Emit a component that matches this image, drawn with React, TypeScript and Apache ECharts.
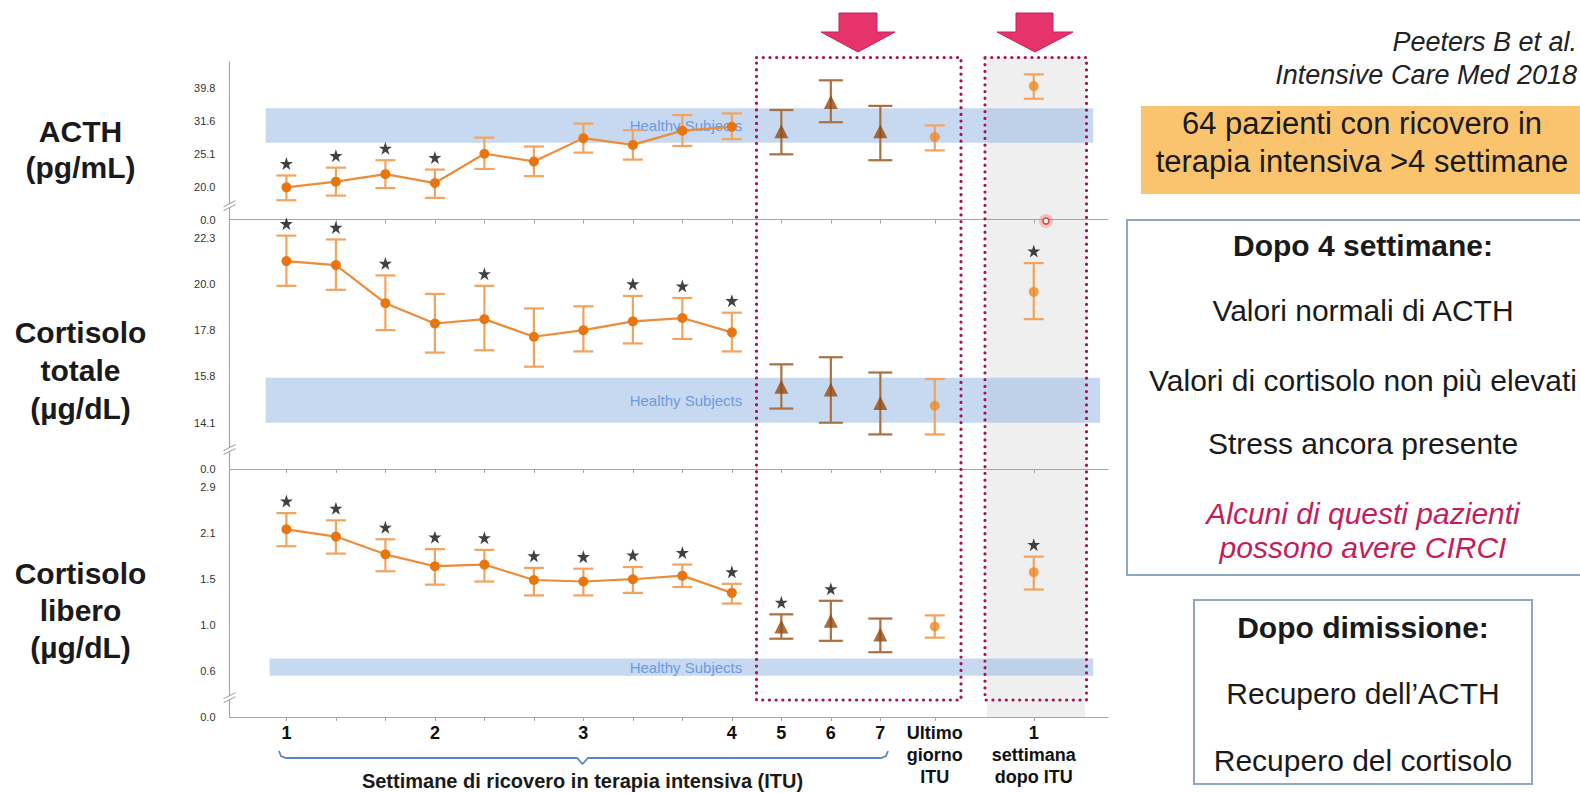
import React, { useEffect, useRef } from "react";
import * as echarts from "echarts";

// ---------------- data ----------------
// position of each sampling point along the time axis (one unit = one sampling step)
const SLOT_X = [0, 1, 2, 3, 4, 5, 6, 7, 8, 9, 10, 11, 12, 13.1, 15.1];
const PHASE = ["icu", "icu", "icu", "icu", "icu", "icu", "icu", "icu", "icu", "icu", "late", "late", "late", "last", "post"];
const X_LABELS = ["1", "2", "3", "4", "5", "6", "7", "Ultimo\ngiorno\nITU", "1\nsettimana\ndopo ITU"];
const X_LABEL_SLOTS = [0, 3, 6, 9, 10, 11, 12, 13.1, 15.1];

const ACTH_TICKS = [20.0, 25.1, 31.6, 39.8];
const ACTH_MEAN = [19.9, 20.7, 21.8, 20.5, 25.1, 23.8, 28.0, 26.7, 29.5, 30.3, 29.4, 36.1, 29.4, 28.2, 40.3];
const ACTH_LO = [18.2, 18.8, 19.8, 18.5, 22.6, 21.5, 25.3, 24.1, 26.5, 27.8, 25.0, 31.3, 24.0, 25.7, 36.9];
const ACTH_HI = [21.6, 22.8, 24.0, 22.5, 28.1, 26.4, 31.0, 29.6, 32.9, 33.3, 34.1, 42.0, 35.1, 30.6, 43.8];
const ACTH_SIG = [1, 1, 1, 1, 0, 0, 0, 0, 0, 0, 0, 0, 0, 0, 0];
const ACTH_HEALTHY = [27.1, 34.5];

const TOT_TICKS = [14.1, 15.8, 17.8, 20.0, 22.3];
const TOT_MEAN = [21.1, 20.9, 19.05, 18.1, 18.3, 17.5, 17.8, 18.2, 18.35, 17.7, 15.4, 15.3, 14.8, 14.7, 19.6];
const TOT_LO = [19.9, 19.7, 17.8, 16.8, 16.9, 16.2, 16.85, 17.2, 17.4, 16.85, 14.6, 14.1, 13.7, 13.7, 18.3];
const TOT_HI = [22.4, 22.2, 20.4, 19.5, 19.9, 18.8, 18.9, 19.4, 19.3, 18.6, 16.3, 16.6, 15.96, 15.7, 21.0];
const TOT_SIG = [1, 1, 1, 0, 1, 0, 0, 1, 1, 1, 0, 0, 0, 0, 1];
const TOT_HEALTHY = [14.1, 15.75];

const FREE_TICKS = [0.6, 1.0, 1.5, 2.1, 2.9];
const FREE_MEAN = [2.16, 2.05, 1.8, 1.65, 1.67, 1.49, 1.47, 1.5, 1.54, 1.33, 0.985, 1.04, 0.9, 0.985, 1.58];
const FREE_LO = [1.91, 1.81, 1.59, 1.43, 1.47, 1.3, 1.3, 1.33, 1.4, 1.21, 0.86, 0.84, 0.74, 0.87, 1.37];
const FREE_HI = [2.42, 2.3, 2.01, 1.87, 1.86, 1.63, 1.62, 1.64, 1.67, 1.44, 1.1, 1.24, 1.06, 1.09, 1.77];
const FREE_SIG = [1, 1, 1, 1, 1, 1, 1, 1, 1, 1, 1, 1, 0, 0, 1];
const FREE_HEALTHY = [0.57, 0.69];

// ---------------- layout ----------------
const GRID_LEFT = 229.5;
const GRID_RIGHT_EDGE = 1108;
const X_MIN = -1.15;
const X_MAX = 16.6;
const PANEL_GEOM = [
  { top: 62, bottom: 219.5, max: 4.79 },
  { top: 219.5, bottom: 469, max: 5.39 },
  { top: 469, bottom: 717, max: 5.4 },
];
const BAND_X = [
  [-0.42, 16.3],
  [-0.42, 16.44],
  [-0.34, 16.3],
];
const HEALTHY_LABEL_END = 9.25;
const FONT = "Liberation Sans, Arial, Helvetica, sans-serif";
const STAR = "path://M12,0 L14.9,8.6 L24,8.6 L16.6,14 L19.4,22.8 L12,17.4 L4.6,22.8 L7.4,14 L0,8.6 L9.1,8.6 Z";

// value -> axis position (ticks sit at 1..n, log interpolation between them; 0 = axis break)
function toPos(v: number, ticks: number[]): number {
  const L = Math.log(v);
  const LT = ticks.map((t) => Math.log(t));
  const n = LT.length;
  let i = 0;
  while (i < n - 2 && L > LT[i + 1]) i++;
  return 1 + i + (L - LT[i]) / (LT[i + 1] - LT[i]);
}

const PANELS = [
  { ticks: ACTH_TICKS, mean: ACTH_MEAN, lo: ACTH_LO, hi: ACTH_HI, sig: ACTH_SIG, healthy: ACTH_HEALTHY },
  { ticks: TOT_TICKS, mean: TOT_MEAN, lo: TOT_LO, hi: TOT_HI, sig: TOT_SIG, healthy: TOT_HEALTHY },
  { ticks: FREE_TICKS, mean: FREE_MEAN, lo: FREE_LO, hi: FREE_HI, sig: FREE_SIG, healthy: FREE_HEALTHY },
];

function errRender(params: any, api: any) {
  const x = api.value(0);
  const lo = api.coord([x, api.value(1)]);
  const hi = api.coord([x, api.value(2)]);
  const late = api.value(3) === 1;
  const half = late ? 12 : 10;
  const style = { stroke: late ? "#A8713F" : "#F2A35C", lineWidth: 2.2, fill: "none" };
  return {
    type: "group",
    children: [
      { type: "line", shape: { x1: lo[0], y1: lo[1], x2: hi[0], y2: hi[1] }, style },
      { type: "line", shape: { x1: hi[0] - half, y1: hi[1], x2: hi[0] + half, y2: hi[1] }, style },
      { type: "line", shape: { x1: lo[0] - half, y1: lo[1], x2: lo[0] + half, y2: lo[1] }, style },
    ],
  };
}

function buildOption() {
  const grid: any[] = [];
  const xAxis: any[] = [];
  const yAxis: any[] = [];
  const series: any[] = [];
  const idx = SLOT_X.map((_, k) => k);

  PANELS.forEach((p, i) => {
    const g = PANEL_GEOM[i];
    const pos = (v: number) => toPos(v, p.ticks);
    grid.push({ left: GRID_LEFT, width: GRID_RIGHT_EDGE - GRID_LEFT, top: g.top, height: g.bottom - g.top });
    xAxis.push({
      type: "value",
      gridIndex: i,
      min: X_MIN,
      max: X_MAX,
      splitLine: { show: false },
      axisLine: { show: true, onZero: false, lineStyle: { color: "#A6A6A6", width: 1.2 } },
      axisTick: { show: true, customValues: SLOT_X, length: 4, lineStyle: { color: "#A6A6A6" } },
      axisLabel:
        i === 2
          ? {
              show: true,
              customValues: X_LABEL_SLOTS,
              formatter: (v: number) => {
                const k = X_LABEL_SLOTS.findIndex((s) => Math.abs(s - v) < 1e-6);
                return k >= 0 ? X_LABELS[k] : "";
              },
              fontFamily: FONT,
              fontSize: 18,
              fontWeight: "bold",
              color: "#111",
              lineHeight: 22,
              margin: 5,
            }
          : { show: false },
    });
    const yVals = [0, ...p.ticks.map((_, k) => k + 1)];
    yAxis.push({
      type: "value",
      gridIndex: i,
      min: 0,
      max: g.max,
      splitLine: { show: false },
      axisLine: { show: true, onZero: false, lineStyle: { color: "#A6A6A6", width: 1.2 } },
      axisTick: { show: false },
      axisLabel: {
        customValues: yVals,
        formatter: (v: number) => (v < 0.5 ? "0.0" : p.ticks[Math.round(v) - 1].toFixed(1)),
        fontFamily: FONT,
        fontSize: 11,
        color: "#333",
        margin: 14,
      },
    });

    // error bars
    series.push({
      type: "custom",
      xAxisIndex: i,
      yAxisIndex: i,
      z: 3,
      silent: true,
      renderItem: errRender,
      encode: { x: 0, y: [1, 2] },
      data: idx.map((k) => [SLOT_X[k], pos(p.lo[k]), pos(p.hi[k]), PHASE[k] === "late" ? 1 : 0]),
    });
    // ICU weeks 1-4 line
    series.push({
      type: "line",
      xAxisIndex: i,
      yAxisIndex: i,
      z: 4,
      silent: true,
      symbol: "circle",
      symbolSize: 10,
      showAllSymbol: true,
      itemStyle: { color: "#E8750E" },
      lineStyle: { color: "#EC8B38", width: 2.2 },
      data: idx.filter((k) => PHASE[k] === "icu").map((k) => [SLOT_X[k], pos(p.mean[k])]),
      markArea: {
        silent: true,
        itemStyle: { color: "rgba(141,180,227,0.5)" },
        label: { show: false },
        data: [
          [
            { xAxis: BAND_X[i][0], yAxis: pos(p.healthy[0]) },
            { xAxis: BAND_X[i][1], yAxis: pos(p.healthy[1]) },
          ],
          [
            {
              xAxis: BAND_X[i][0],
              yAxis: pos(p.healthy[0]),
              itemStyle: { color: "rgba(0,0,0,0)" },
              label: {
                show: true,
                position: "insideRight",
                formatter: "Healthy Subjects",
                color: "#6E9AE0",
                fontSize: 15,
                fontFamily: FONT,
                distance: 2,
              },
            },
            { xAxis: HEALTHY_LABEL_END, yAxis: pos(p.healthy[1]) },
          ],
        ],
      },
    });
    // weeks 5-7 (triangles)
    series.push({
      type: "scatter",
      xAxisIndex: i,
      yAxisIndex: i,
      z: 4,
      silent: true,
      symbol: "triangle",
      symbolSize: 14,
      itemStyle: { color: "#954A0E" },
      data: idx.filter((k) => PHASE[k] === "late").map((k) => [SLOT_X[k], pos(p.mean[k])]),
    });
    // last ICU day and week after ITU
    series.push({
      type: "scatter",
      xAxisIndex: i,
      yAxisIndex: i,
      z: 4,
      silent: true,
      symbol: "circle",
      symbolSize: 10,
      itemStyle: { color: "#EE8A2C" },
      data: idx.filter((k) => PHASE[k] === "last" || PHASE[k] === "post").map((k) => [SLOT_X[k], pos(p.mean[k])]),
    });
    // significance stars
    series.push({
      type: "scatter",
      xAxisIndex: i,
      yAxisIndex: i,
      z: 5,
      silent: true,
      symbol: STAR,
      symbolSize: 13,
      symbolOffset: [0, -12],
      itemStyle: { color: "#111" },
      data: idx.filter((k) => p.sig[k] === 1).map((k) => [SLOT_X[k], pos(p.hi[k])]),
    });
  });

  const T = (text: string, x: number, y: number, extra: any = {}) => ({
    type: "text",
    x,
    y,
    z: 20,
    style: {
      text,
      fill: "#1a1a1a",
      fontFamily: FONT,
      fontSize: 30,
      align: "center",
      verticalAlign: "middle",
      ...extra,
    },
  });

  const elements: any[] = [];
  // grey shaded post-discharge column
  elements.push({ type: "rect", z: -1, shape: { x: 987, y: 57, width: 98, height: 660 }, style: { fill: "#EFEFEF" } });
  // axis breaks
  PANEL_GEOM.forEach((g) => {
    const per = (g.bottom - g.top) / g.max;
    const x = GRID_LEFT;
    const y = g.bottom - 0.42 * per;
    elements.push({
      type: "polygon",
      z: 10,
      shape: { points: [[x - 6, y + 1], [x + 6, y - 5], [x + 6, y - 1], [x - 6, y + 5]] },
      style: { fill: "#fff" },
    });
    elements.push({ type: "line", z: 11, shape: { x1: x - 6, y1: y + 1, x2: x + 6, y2: y - 5 }, style: { stroke: "#9A9A9A", lineWidth: 1 } });
    elements.push({ type: "line", z: 11, shape: { x1: x - 6, y1: y + 5, x2: x + 6, y2: y - 1 }, style: { stroke: "#9A9A9A", lineWidth: 1 } });
  });
  // dotted frames
  const frameStyle = { fill: "none", stroke: "#A3165A", lineWidth: 3.2, lineDash: [0.1, 6.6], lineCap: "round" };
  elements.push({ type: "rect", z: 100, shape: { x: 756.5, y: 57.5, width: 204.5, height: 642.5 }, style: frameStyle });
  elements.push({ type: "rect", z: 100, shape: { x: 985, y: 57.5, width: 101.5, height: 642.5 }, style: frameStyle });
  // arrows
  const arrowStyle = { fill: "#E6336C", stroke: "#C4225A", lineWidth: 1 };
  elements.push({
    type: "polygon",
    z: 100,
    shape: { points: [[839, 13], [877, 13], [877, 32], [895, 32], [858, 52], [821, 32], [839, 32]] },
    style: arrowStyle,
  });
  elements.push({
    type: "polygon",
    z: 100,
    shape: { points: [[1016, 13], [1053, 13], [1053, 32], [1073, 32], [1035, 52], [997, 32], [1016, 32]] },
    style: arrowStyle,
  });
  // pointer
  elements.push({ type: "circle", z: 101, shape: { cx: 1046, cy: 221, r: 7 }, style: { fill: "rgba(255,100,100,0.35)" } });
  elements.push({ type: "circle", z: 102, shape: { cx: 1046, cy: 221, r: 3 }, style: { fill: "#fff", stroke: "#E53935", lineWidth: 1.5 } });
  // bracket under x axis
  elements.push({
    type: "polyline",
    z: 20,
    shape: {
      points: [[279, 751], [281, 756], [286, 758], [577, 758], [582.5, 764], [588, 758], [881, 758], [886, 756], [888, 751]],
    },
    style: { stroke: "#5A86C8", lineWidth: 1.8, fill: "none" },
  });
  elements.push(T("Settimane di ricovero in terapia intensiva (ITU)", 582.5, 781, { fontSize: 20, fontWeight: "bold" }));
  // left labels
  elements.push(T("ACTH\n(pg/mL)", 80.5, 149, { fontWeight: "bold", lineHeight: 36 }));
  elements.push(T("Cortisolo\ntotale\n(µg/dL)", 80.5, 370, { fontWeight: "bold", lineHeight: 38 }));
  elements.push(T("Cortisolo\nlibero\n(µg/dL)", 80.5, 610, { fontWeight: "bold", lineHeight: 37 }));
  // citation
  elements.push(T("Peeters B et al.", 1577, 42, { align: "right", fontStyle: "italic", fontSize: 27, fill: "#222" }));
  elements.push(T("Intensive Care Med 2018", 1577, 75, { align: "right", fontStyle: "italic", fontSize: 27, fill: "#222" }));
  // orange box
  elements.push({ type: "rect", z: 15, shape: { x: 1141, y: 106, width: 470, height: 88 }, style: { fill: "#F9C46D" } });
  elements.push(T("64 pazienti con ricovero in\nterapia intensiva >4 settimane", 1362, 142, { fontSize: 31, lineHeight: 38 }));
  // box after 4 weeks
  elements.push({ type: "rect", z: 15, shape: { x: 1127, y: 220, width: 470, height: 355 }, style: { fill: "#fff", stroke: "#8FA7C7", lineWidth: 2 } });
  elements.push(T("Dopo 4 settimane:", 1363, 245, { fontWeight: "bold" }));
  elements.push(T("Valori normali di ACTH", 1363, 310));
  elements.push(T("Valori di cortisolo non più elevati", 1363, 380));
  elements.push(T("Stress ancora presente", 1363, 443));
  elements.push(T("Alcuni di questi pazienti\npossono avere CIRCI", 1363, 530, { fontStyle: "italic", fill: "#C41E5A", lineHeight: 34 }));
  // box after discharge
  elements.push({ type: "rect", z: 15, shape: { x: 1194, y: 600, width: 338, height: 184 }, style: { fill: "#fff", stroke: "#8FA7C7", lineWidth: 2 } });
  elements.push(T("Dopo dimissione:", 1363, 627, { fontWeight: "bold" }));
  elements.push(T("Recupero dell’ACTH", 1363, 693));
  elements.push(T("Recupero del cortisolo", 1363, 760));

  return {
    animation: false,
    backgroundColor: "#fff",
    grid,
    xAxis,
    yAxis,
    series,
    graphic: { elements },
  };
}

export default function App() {
  const ref = useRef<HTMLDivElement>(null);
  useEffect(() => {
    if (!ref.current) return;
    const chart = echarts.init(ref.current, null, { renderer: "svg" });
    chart.setOption(buildOption() as any);
    return () => chart.dispose();
  }, []);
  return (
    <div
      ref={ref}
      style={{ position: "absolute", left: 0, top: 0, width: 1580, height: 793, background: "#fff", overflow: "hidden" }}
    />
  );
}
